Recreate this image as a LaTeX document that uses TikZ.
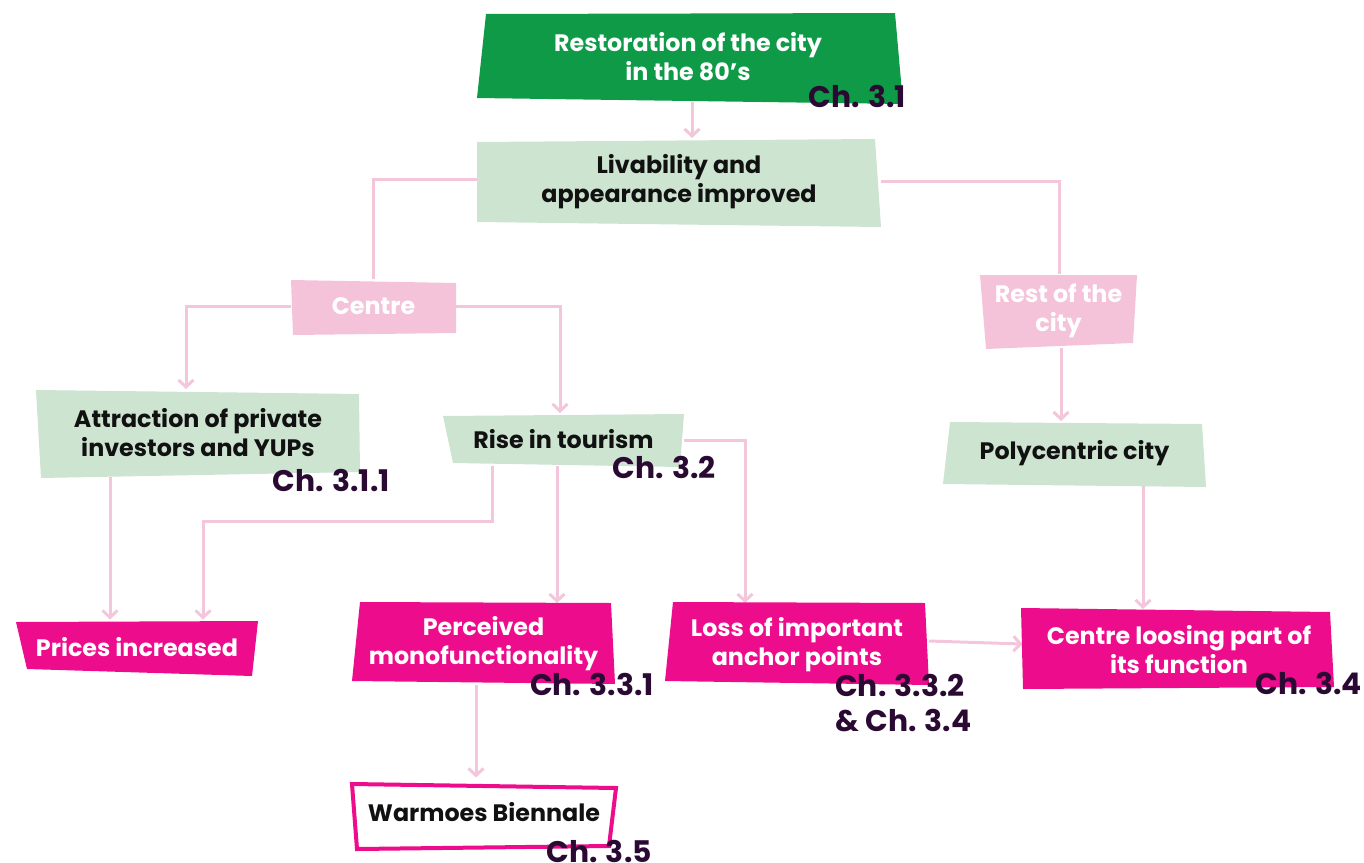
\documentclass[tikz,border=0pt]{standalone}
\usepackage{fontspec}
\setmainfont{Poppins}
\usetikzlibrary{arrows.meta,calc}
\definecolor{dgreen}{HTML}{0F9A48}
\definecolor{lgreen}{HTML}{CDE4D1}
\definecolor{lpink}{HTML}{F4C3DA}
\definecolor{hot}{HTML}{EC0C8C}
\definecolor{wirecol}{HTML}{F4C6DC}
\definecolor{chapcol}{HTML}{2A0A33}
\definecolor{ink}{HTML}{111111}
\pgfdeclarelayer{bg}
\pgfsetlayers{bg,main}
\begin{document}
\begin{tikzpicture}[x=1pt,y=-1pt,
  box/.style={inner sep=0pt,outer sep=0pt,align=center,
    font=\bfseries\fontsize{23.8}{29}\selectfont},
  chap/.style={inner sep=0pt,text=chapcol,align=left,
    font=\bfseries\fontsize{29.8}{35}\selectfont},
  link/.style={draw=wirecol,line width=3pt},
  wire/.style={link,-{Straight Barb[length=7pt,width=15pt]}}]
\useasboundingbox (0,0) rectangle (1364,862);

% box outlines
\fill[dgreen] (486,14) -- (895,13) -- (903,104) -- (477,98) -- cycle;
\fill[lgreen] (477,142) -- (875,139) -- (881,227) -- (477,222) -- cycle;
\fill[lpink]  (291,280) -- (456,283) -- (456,333) -- (293,335) -- cycle;
\fill[lpink]  (980,275) -- (1137,275) -- (1133,343) -- (986,349) -- cycle;
\fill[lgreen] (36,390) -- (359,394) -- (360,472) -- (41,478) -- cycle;
\fill[lgreen] (443,416) -- (684,414) -- (680,467) -- (453,463) -- cycle;
\fill[lgreen] (950,422) -- (1202,424) -- (1206,487) -- (943,484) -- cycle;
\fill[hot] (16,622) -- (258,621) -- (252,676) -- (27,669) -- cycle;
\fill[hot] (360,602) -- (611,603) -- (615,684) -- (352,681) -- cycle;
\fill[hot] (673,602) -- (925,603) -- (929,685) -- (665,681) -- cycle;
\fill[hot] (1021,608) -- (1330,612) -- (1334,687) -- (1023,689) -- cycle;
\draw[hot,fill=white,line width=4pt] (352,784) -- (616,788) -- (609,846) -- (357,849) -- cycle;

% box texts
\node[box,text=white,minimum width=426,minimum height=90] (resto) at (688,57)
  {Restoration of the city\\in the 80’s};
\node[box,text=ink,minimum width=404,minimum height=88] (liv) at (679,182)
  {Livability and\\appearance improved};
\node[box,text=white,minimum width=165,minimum height=55] (centre) at (373.5,306) {Centre};
\node[box,text=white,minimum width=157,minimum height=74] (rest) at (1058.5,311) {Rest of the\\city};
\node[box,text=ink,minimum width=324,minimum height=88] (attr) at (198,433)
  {Attraction of private\\investors and YUPs};
\node[box,text=ink,minimum width=241,minimum height=53] (rise) at (563.5,439.5) {Rise in tourism};
\node[box,text=ink,minimum width=263,minimum height=65] (poly) at (1074.5,453.5) {Polycentric city};
\node[box,text=white,minimum width=242,minimum height=55] (prices) at (137,647) {Prices increased};
\node[box,text=white,minimum width=263,minimum height=82] (perc) at (483.5,644)
  {Perceived\\monofunctionality};
\node[box,text=white,minimum width=264,minimum height=83] (loss) at (797,644.5)
  {Loss of important\\anchor points};
\node[box,text=white,minimum width=313,minimum height=81] (cfun) at (1179,649.5)
  {Centre loosing part of\\its function};
\node[box,text=ink,minimum width=268,minimum height=69] (warm) at (484,812) {Warmoes Biennale};

% connectors
\begin{pgfonlayer}{bg}
\draw[wire] (resto.south -| 692,0) -- (liv.north -| 692,0);
\draw[link] (liv.west |- 0,179) -| (centre.north -| 373,0);
\draw[link] (liv.east |- 0,181) -| (rest.north -| 1059,0);
\draw[wire] (centre.west |- 0,306) -| (attr.north -| 186,0);
\draw[wire] (centre.east |- 0,306) -| (rise.north -| 560,0);
\draw[wire] (rest.south -| 1061,0) -- (poly.north -| 1061,0);
\draw[wire] (attr.south -| 110,0) -- (prices.north -| 110,0);
\draw[wire] (rise.south -| 492,0) |- (203,521) -- (prices.north -| 203,0);
\draw[wire] (rise.south -| 557,0) -- (perc.north -| 557,0);
\draw[wire] (rise.east |- 0,440) -| (loss.north -| 745,0);
\draw[wire] (poly.south -| 1143,0) -- (cfun.north -| 1143,0);
\draw[wire] (loss.east |- 0,641) -- (cfun.west |- 0,644);
\draw[wire] (perc.south -| 476,0) -- (warm.north -| 476,0);
\end{pgfonlayer}

% chapter references
\node[chap,anchor=base east] (c31) at (906,107) {Ch. 3.1};
\node[chap,anchor=base east] (c311) at (390,491) {Ch. 3.1.1};
\node[chap,anchor=base east] (c32) at (716,478) {Ch. 3.2};
\node[chap,anchor=base east] (c331) at (654,695) {Ch. 3.3.1};
\node[chap,anchor=north west] (c332) at (835,674) {Ch. 3.3.2\\\& Ch. 3.4};
\node[chap,anchor=base east] (c34) at (1362,694) {Ch. 3.4};
\node[chap,anchor=base east] (c35) at (652,862) {Ch. 3.5};
\end{tikzpicture}
\end{document}
